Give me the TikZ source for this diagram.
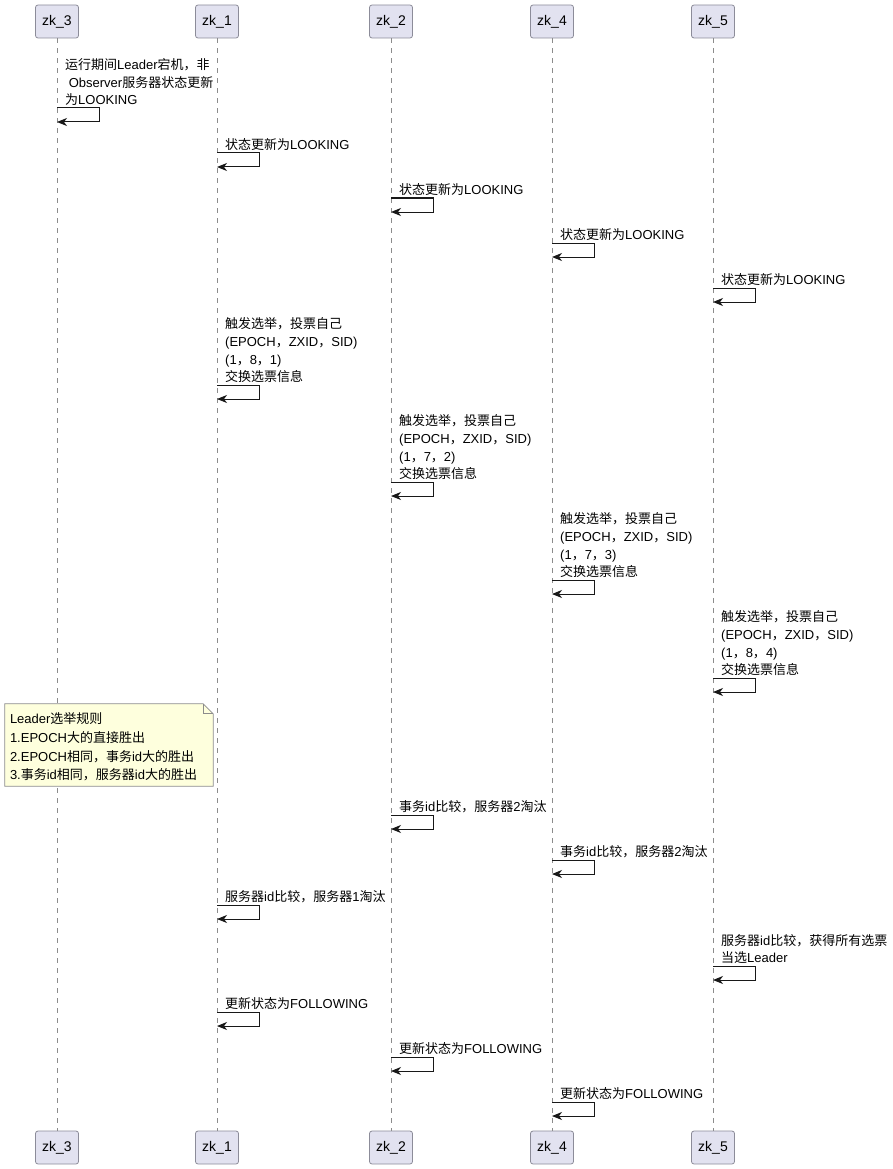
\documentclass[tikz,border=0pt]{standalone}
\usepackage{fontspec}
\setmainfont{Liberation Sans}
\newfontfamily\cjkfont{Noto Sans CJK SC}
\usetikzlibrary{arrows.meta,backgrounds}
\XeTeXinterchartokenstate=1
\newXeTeXintercharclass\cjkcls
\newcount\cjkcnt
\def\setcjkrange#1#2{\cjkcnt=#1\relax
  \loop\XeTeXcharclass\cjkcnt=\cjkcls\relax
  \advance\cjkcnt by 1\relax\ifnum\cjkcnt<#2\relax\repeat}
\setcjkrange{"3000}{"3040}
\setcjkrange{"4E00}{"A000}
\setcjkrange{"FF00}{"FFF0}
\XeTeXinterchartoks 0 \cjkcls = {\cjkfont}
\XeTeXinterchartoks 4095 \cjkcls = {\cjkfont}
\XeTeXinterchartoks \cjkcls 0 = {\rmfamily}
\XeTeXinterchartoks \cjkcls 4095 = {\rmfamily}
\definecolor{partfill}{HTML}{E2E2F0}
\definecolor{partline}{HTML}{8C8C99}
\definecolor{lifegray}{HTML}{8C8C8C}
\definecolor{notefill}{HTML}{FEFFDD}
\definecolor{noteline}{HTML}{8C8C8C}
\definecolor{msgline}{HTML}{181818}
\begin{document}
\begin{tikzpicture}[x=1pt,y=-1pt,
		participant/.style = {draw=partline, fill=partfill, line width=0.8pt,
			rounded corners=2.5pt, minimum width=43pt, minimum height=33pt,
			inner sep=0pt, font=\fontsize{14pt}{16pt}\selectfont},
		lifeline/.style = {draw=lifegray, line width=0.7pt, dash pattern=on 5pt off 5pt},
		msg/.style = {anchor=south west, inner sep=0pt, align=left,
			font=\fontsize{13pt}{17.7pt}\selectfont},
		selfmsg/.style = {draw=msgline, line width=1pt,
			-{Stealth[length=10pt,width=8pt,inset=3pt]}},
		notebox/.style = {minimum width=208pt, minimum height=82pt, text width=198pt,
			inner xsep=5pt, inner ysep=0pt, align=left,
			font=\fontsize{13pt}{18.7pt}\selectfont},
		noteshape/.style = {draw=noteline, fill=notefill, line width=0.8pt}]
		\useasboundingbox (0,0) rectangle (892,1169);
		\foreach \id/\x in {3/57,1/217,2/391,4/552,5/713}{
			\node[participant] (zk\id) at (\x,21.5) {zk\_\id};
			\node[participant] (bot\id) at (\x,1147.5) {zk\_\id};
			\begin{scope}[on background layer]
				\draw[lifeline] (zk\id) -- (bot\id);
			\end{scope}
		}
		\foreach \who/\ya/\txt [count=\i] in {
			zk3/108/{运行期间Leader宕机，非\\\hspace*{3.6pt}Observer服务器状态更新\\为LOOKING},
			zk1/153/{状态更新为LOOKING},
			zk2/198/{状态更新为LOOKING},
			zk4/243/{状态更新为LOOKING},
			zk5/288/{状态更新为LOOKING},
			zk1/385/{触发选举，投票自己\\(EPOCH，ZXID，SID)\\(1，8，1)\\交换选票信息},
			zk2/482/{触发选举，投票自己\\(EPOCH，ZXID，SID)\\(1，7，2)\\交换选票信息},
			zk4/580/{触发选举，投票自己\\(EPOCH，ZXID，SID)\\(1，7，3)\\交换选票信息},
			zk5/678/{触发选举，投票自己\\(EPOCH，ZXID，SID)\\(1，8，4)\\交换选票信息},
			zk2/815/{事务id比较，服务器2淘汰},
			zk4/860/{事务id比较，服务器2淘汰},
			zk1/905/{服务器id比较，服务器1淘汰},
			zk5/966/{服务器id比较，获得所有选票\\当选Leader},
			zk1/1012/{更新状态为FOLLOWING},
			zk2/1057/{更新状态为FOLLOWING},
			zk4/1102/{更新状态为FOLLOWING}}{
			\coordinate (s\i) at (\who |- 0,\ya);
			\coordinate (e\i) at ([yshift=-14pt]s\i);
			\node[msg] (m\i) at ([shift={(8,-2)}]s\i) {\txt};
			\draw[selfmsg] (s\i) -- ++(42,0) |- (e\i);
		}
		\node[notebox] (rules) at (109,747) {Leader选举规则\\1.EPOCH大的直接胜出\\2.EPOCH相同，事务id大的胜出\\3.事务id相同，服务器id大的胜出};
		\begin{scope}[on background layer]
			\draw[noteshape] ([yshift=2pt]rules.south west) -- ([yshift=2pt]rules.south east)
				-- ([yshift=-8pt]rules.north east) -- ([shift={(-10pt,2pt)}]rules.north east)
				-- ([yshift=2pt]rules.north west) -- cycle;
			\draw[draw=noteline, line width=0.8pt] ([shift={(-10pt,2pt)}]rules.north east)
				|- ([yshift=-8pt]rules.north east);
		\end{scope}
\end{tikzpicture}
\end{document}
